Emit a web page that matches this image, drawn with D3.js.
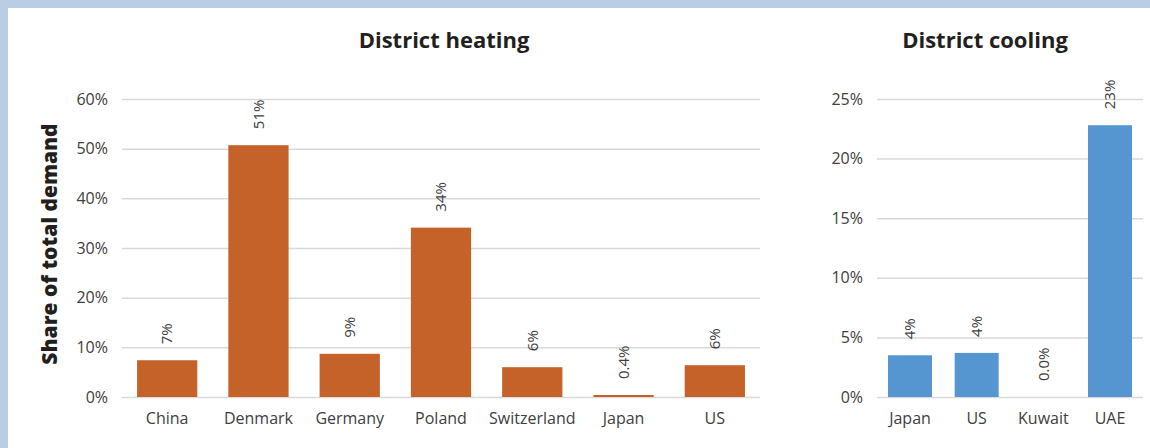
<!DOCTYPE html>
<html>
<head>
<meta charset="utf-8">
<script src="https://cdn.jsdelivr.net/npm/d3@7"></script>
<style>
  html, body { margin: 0; padding: 0; background: #b9cde5; }
  svg { display: block; }
  .tick text { font-family: "Open Sans", Roboto, sans-serif; fill: #404040; }
</style>
</head>
<body>
<svg id="chart"></svg>
<script>
// district heating
const heatCountries = ["China", "Denmark", "Germany", "Poland", "Switzerland", "Japan", "US"];
const heatValues = [7.4, 50.7, 8.7, 34.1, 6.0, 0.4, 6.4];
const heatLabels = ["7%", "51%", "9%", "34%", "6%", "0.4%", "6%"];
const heatTicks = [0, 10, 20, 30, 40, 50, 60];

// district cooling
const coolCountries = ["Japan", "US", "Kuwait", "UAE"];
const coolValues = [3.5, 3.7, 0, 22.8];
const coolLabels = ["4%", "4%", "0.0%", "23%"];
const coolTicks = [0, 5, 10, 15, 20, 25];

const W = 1150, H = 448;
const svg = d3.select("#chart").attr("width", W).attr("height", H);

// white card inside the light-blue frame
svg.append("rect").attr("x", 8).attr("y", 8).attr("width", W - 8).attr("height", H - 8).attr("fill", "#fff");

const plotTop = 99, plotBottom = 397;

function drawPanel(opts) {
  const x = d3.scaleBand()
    .domain(opts.countries)
    .range([opts.x0, opts.x1])
    .paddingInner(0.34)
    .paddingOuter(0.165);
  const y = d3.scaleLinear().domain([0, opts.max]).range([plotBottom, plotTop]);

  // gridlines + value ticks
  const yAxis = svg.append("g")
    .attr("transform", `translate(${opts.x0},0)`)
    .call(d3.axisLeft(y)
      .tickValues(opts.ticks)
      .tickSizeInner(-(opts.x1 - opts.x0))
      .tickSizeOuter(0)
      .tickPadding(14)
      .tickFormat((d) => d + "%"));
  yAxis.select(".domain").remove();
  yAxis.selectAll(".tick line").attr("stroke", "#d9d9d9").attr("stroke-width", 1.5);
  yAxis.selectAll(".tick text").style("font-size", "16px");

  // category axis
  const xAxis = svg.append("g")
    .attr("transform", `translate(0,${plotBottom})`)
    .call(d3.axisBottom(x).tickSize(0).tickPadding(16));
  xAxis.select(".domain").remove();
  xAxis.selectAll(".tick text").style("font-size", "16px");

  const rows = opts.countries.map((c, i) => ({ c, v: opts.values[i], label: opts.labels[i] }));

  svg.append("g").selectAll("rect").data(rows).join("rect")
    .attr("x", (d) => x(d.c))
    .attr("y", (d) => y(d.v))
    .attr("width", x.bandwidth())
    .attr("height", (d) => plotBottom - y(d.v))
    .attr("fill", opts.color);

  // rotated value labels above bars
  svg.append("g").selectAll("text").data(rows).join("text")
    .attr("transform", (d) => `translate(${x(d.c) + x.bandwidth() / 2},${y(d.v) - 16}) rotate(-90)`)
    .attr("dy", "0.35em")
    .attr("text-anchor", "start")
    .style("font-family", "'Open Sans', Roboto, sans-serif")
    .style("font-size", "15px")
    .attr("fill", "#404040")
    .text((d) => d.label);

  svg.append("text")
    .attr("x", opts.titleX)
    .attr("y", 48)
    .attr("text-anchor", "middle")
    .style("font-family", "'Open Sans', sans-serif")
    .style("font-weight", 700)
    .style("font-size", "22px")
    .attr("fill", "#231f20")
    .text(opts.title);
}

drawPanel({
  countries: heatCountries, values: heatValues, labels: heatLabels, ticks: heatTicks,
  max: 60, x0: 122, x1: 760, color: "#c4622a", title: "District heating", titleX: 444,
});

drawPanel({
  countries: coolCountries, values: coolValues, labels: coolLabels, ticks: coolTicks,
  max: 25, x0: 877, x1: 1143, color: "#5596d1", title: "District cooling", titleX: 985,
});

// shared y title
svg.append("text")
  .attr("transform", "translate(57,244) rotate(-90)")
  .attr("text-anchor", "middle")
  .style("font-family", "'Open Sans', sans-serif")
  .style("font-weight", 800)
  .style("font-size", "21px")
  .attr("fill", "#231f20")
  .text("Share of total demand");
</script>
</body>
</html>
